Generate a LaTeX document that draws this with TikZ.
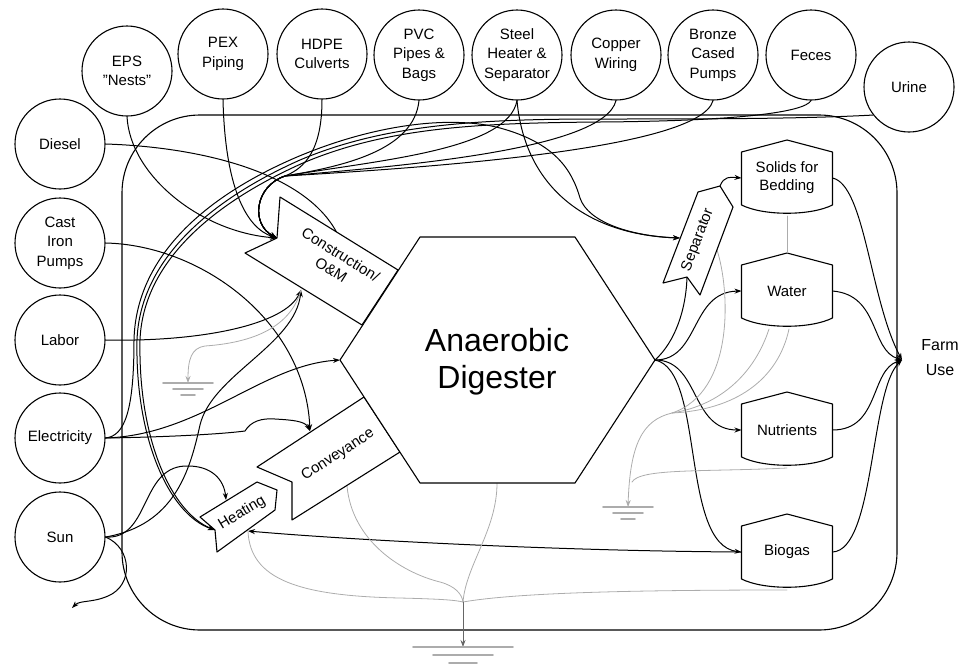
\documentclass[tikz,border=0pt]{standalone}
\usepackage{fontspec}
\setmainfont{Liberation Sans}
\usetikzlibrary{arrows.meta}

\tikzset{
  src/.style={circle,draw,fill=white,line width=1.1pt,minimum size=90pt,inner sep=0pt,align=center,font=\fontsize{15}{19.5}\selectfont},
  tank/.style={minimum width=90pt,minimum height=75pt,inner sep=0pt,align=center,font=\fontsize{15}{18}\selectfont},
  proc/.style={draw,fill=white,line width=1.1pt},
  lbl/.style={align=center,font=\fontsize{15}{18}\selectfont},
  sink/.style={gray!65,line width=.8pt},
  sinkbar/.style={gray!65,line width=1.6pt},
}

\newcommand{\tankline}[1]{%
  \draw[line width=1.1pt] ([yshift=-12pt]#1.north west) -- (#1.north) -- ([yshift=-12pt]#1.north east)
    -- ([yshift=11pt]#1.south east) .. controls ([xshift=-22pt]#1.south east) and ([xshift=22pt]#1.south west) .. ([yshift=11pt]#1.south west) -- cycle;}
\newcommand{\heatsink}[3]{%
  \draw[sinkbar] ([xshift={-25pt*#2}]#1) -- ([xshift={25pt*#2}]#1)
    ([xshift={-15pt*#2},yshift={-6pt*#3}]#1) -- ([xshift={15pt*#2},yshift={-6pt*#3}]#1)
    ([xshift={-7pt*#2},yshift={-12pt*#3}]#1) -- ([xshift={7pt*#2},yshift={-12pt*#3}]#1);}

\begin{document}
\begin{tikzpicture}[x=1pt,y=-1pt,line width=1pt,line cap=round,line join=round,>={Stealth[length=7pt,width=5pt]}]
\useasboundingbox (0,0) rectangle (960,664);
% points on the process shapes
\coordinate (adL) at (340,360);
\coordinate (adR) at (655,360);
\coordinate (adS) at (497,483);
\coordinate (coN) at (277,238);
\coordinate (coT) at (337,233);
\coordinate (coB) at (301,290);
\coordinate (cvT) at (310,431);
\coordinate (cvS) at (347,486);
\coordinate (htN) at (215,530);
\coordinate (htT) at (226,500);
\coordinate (htB) at (248,531);
\coordinate (sepL) at (680,238);
\coordinate (sepR) at (717,250);
\coordinate (sepN) at (687,277);
\coordinate (sepP) at (720,186);
\coordinate (sunout) at (72,608);
\coordinate (gnd1) at (188,383);
\coordinate (gnd2) at (628,507);
\coordinate (gnd3) at (463,647);
\coordinate (sj) at (672,413);
\coordinate (gj2) at (632,482);
\coordinate (gm) at (463,602);
\coordinate (farmin) at (902,360);

\draw[line width=1.1pt,rounded corners=78pt] (122,115) rectangle (897,630);

% sources
\node[src] (eps) at (127,71) {EPS\\\symbol{34}Nests\symbol{34}};
\node[src] (pex) at (223,54) {PEX\\Piping};
\node[src] (hdpe) at (322,54) {HDPE\\Culverts};
\node[src] (pvc) at (419,55) {PVC\\Pipes \&\\Bags};
\node[src] (steel) at (517,55) {Steel\\Heater \&\\Separator};
\node[src] (copper) at (616,55) {Copper\\Wiring};
\node[src] (bronze) at (713,55) {Bronze\\Cased\\Pumps};
\node[src] (feces) at (811,55) {Feces};
\node[src] (urine) at (909,87) {Urine};
\node[src] (diesel) at (60,144) {Diesel};
\node[src] (castiron) at (60,243) {Cast\\Iron\\Pumps};
\node[src] (labor) at (60,340) {Labor};
\node[src] (elec) at (60,438) {Electricity};
\node[src] (sun) at (60,537) {Sun};

% storages
\node[tank] (solids) at (787,178) {Solids for\\Bedding};
\tankline{solids}
\node[tank] (water) at (787,291) {Water};
\tankline{water}
\node[tank] (nutrients) at (787,430) {Nutrients};
\tankline{nutrients}
\node[tank] (biogas) at (787,552) {Biogas};
\tankline{biogas}
\node[lbl,font=\fontsize{16}{25}\selectfont] (farm) at (940,358) {Farm\\Use};

% inputs to construction
\draw[->] (eps.south) .. controls (130,175) and (200,232) .. (coN);
\draw[->] (pex.south) .. controls (225,185) and (245,228) .. (coN);
\draw[->] (hdpe.south) .. controls (322,150) and (305,168) .. (285,176) .. controls (255,186) and (250,224) .. (coN);
\draw[->] (pvc.south) .. controls (414,150) and (345,166) .. (285,176) .. controls (255,186) and (250,224) .. (coN);
\draw[->] (steel.south) .. controls (508,150) and (380,160) .. (285,176) .. controls (255,186) and (250,224) .. (coN);
\draw[->] (copper.south) .. controls (604,150) and (400,166) .. (285,176) .. controls (255,186) and (250,224) .. (coN);
\draw[->] (bronze.south) .. controls (700,150) and (420,168) .. (285,176) .. controls (255,186) and (250,224) .. (coN);
\draw (diesel.east) .. controls (200,147) and (305,172) .. (coT);
\draw[->] (labor.east) .. controls (200,342) and (285,325) .. (coB);
\draw[->] (sun.east) .. controls (175,525) and (190,470) .. (200,425) .. controls (212,375) and (295,345) .. (coB);

% manure, heating, conveyance
\draw[->] (urine.218) .. controls (800,119) and (700,119) .. (600,119) .. controls (480,119) and (385,124) .. (300,160)
  .. controls (210,200) and (140,260) .. (137,340) .. controls (135,440) and (170,515) .. (htN);
\draw[->] (feces.south) .. controls (805,112) and (740,121) .. (600,122) .. controls (480,123) and (388,127) .. (303,163)
  .. controls (213,203) and (143,262) .. (140,340) .. controls (138,440) and (172,513) .. (htN);
\draw[->] (sun.east) .. controls (150,540) and (140,468) .. (185,466) .. controls (212,465) and (224,480) .. (htT);
\draw[->] (sun.east) .. controls (132,548) and (134,585) .. (108,596) .. controls (92,603) and (80,600) .. (sunout);
\draw[->] (castiron.east) .. controls (200,245) and (305,320) .. (cvT);
\draw[->] (elec.east) .. controls (170,437) and (222,434) .. (245,431) .. controls (251,421) and (262,418) .. (275,419)
  .. controls (292,420) and (305,421) .. (cvT);
\draw[->] (elec.east) .. controls (200,435) and (262,365) .. (adL);
\draw[->] (biogas.west) .. controls (560,551) and (350,540) .. (htB);

% separator
\draw[->] (elec.east) .. controls (125,436) and (134,410) .. (134,340) .. controls (136,256) and (206,196) .. (297,157)
  .. controls (380,122) and (455,116) .. (500,128) .. controls (555,143) and (572,170) .. (580,198)
  .. controls (588,222) and (630,236) .. (sepL);
\draw[->] (steel.south) .. controls (525,190) and (590,235) .. (sepL);
\draw[->] (sepP) .. controls (724,176) and (730,177) .. (solids.west);
\draw (adR) .. controls (675,342) and (686,310) .. (sepN);

% products
\draw[->] (adR) .. controls (700,360) and (690,292) .. (water.west);
\draw[->] (adR) .. controls (700,360) and (690,430) .. (nutrients.west);
\draw[->] (adR) .. controls (705,370) and (680,545) .. (biogas.west);
\draw[->] (solids.east) .. controls (865,185) and (870,300) .. (farmin);
\draw[->] (water.east) .. controls (880,295) and (870,350) .. (farmin);
\draw[->] (nutrients.east) .. controls (880,430) and (870,370) .. (farmin);
\draw[->] (biogas.east) .. controls (875,550) and (870,390) .. (farmin);

% heat sinks
\draw[sink,->] (coB) .. controls (292,322) and (262,342) .. (205,346) .. controls (191,348) and (188,360) .. (gnd1);
\draw[sink] (solids.south) -- (water.north);
\draw[sink] (sepR) .. controls (730,290) and (735,392) .. (sj);
\draw[sink] ([xshift=-18pt]water.south) .. controls (755,372) and (722,405) .. (sj);
\draw[sink] ([xshift=2pt]water.south) .. controls (778,380) and (735,410) .. (sj);
\draw[sink,->] (sj) .. controls (642,420) and (630,445) .. (gnd2);
\draw[sink] (nutrients.south) .. controls (705,472) and (640,468) .. (gj2);
\draw[sink] (cvS) .. controls (352,540) and (400,572) .. (440,582) .. controls (455,586) and (462,594) .. (gm);
\draw[sink] (adS) .. controls (497,530) and (466,565) .. (gm);
\draw[sink] (htB) .. controls (250,580) and (300,596) .. (400,598) .. controls (440,599) and (455,600) .. (gm);
\draw[sink] (biogas.south) .. controls (650,590) and (520,592) .. (gm);
\draw[sink,->,gray!80!black] (gm) -- (gnd3);
\heatsink{gnd1}{1}{1}
\heatsink{gnd2}{1}{1}
\heatsink{gnd3}{2}{1.33}

% process shapes
\draw[proc] (200,517) -- (257,482) -- (277,490) -- (275,510) -- (217,552) -- (215,530) -- cycle;
\draw[proc] (364,397) -- (257,467) -- (292,482) -- (292,520) -- (400,452) -- cycle;
\draw[proc] (280,197) -- (277,238) -- (245,253) -- (362,325) -- (398,270) -- cycle;
\draw[proc] (663,283) -- (698,192) -- (720,186) -- (733,207) -- (700,295) -- (687,277) -- cycle;
\draw[proc] (adL) -- (420,237) -- (575,237) -- (adR) -- (575,483) -- (420,483) -- cycle;
\node[lbl,rotate=-32] (constr) at (336,262) {Construction/\\O\&M};
\node[lbl,rotate=33] (convey) at (338,455) {Conveyance};
\node[lbl,rotate=31] (heat) at (242,513) {Heating};
\node[lbl,rotate=69] (sep) at (698,240) {Separator};
\node[align=center,font=\fontsize{32}{37}\selectfont] (ad) at (497,362) {Anaerobic\\Digester};
\end{tikzpicture}
\end{document}
